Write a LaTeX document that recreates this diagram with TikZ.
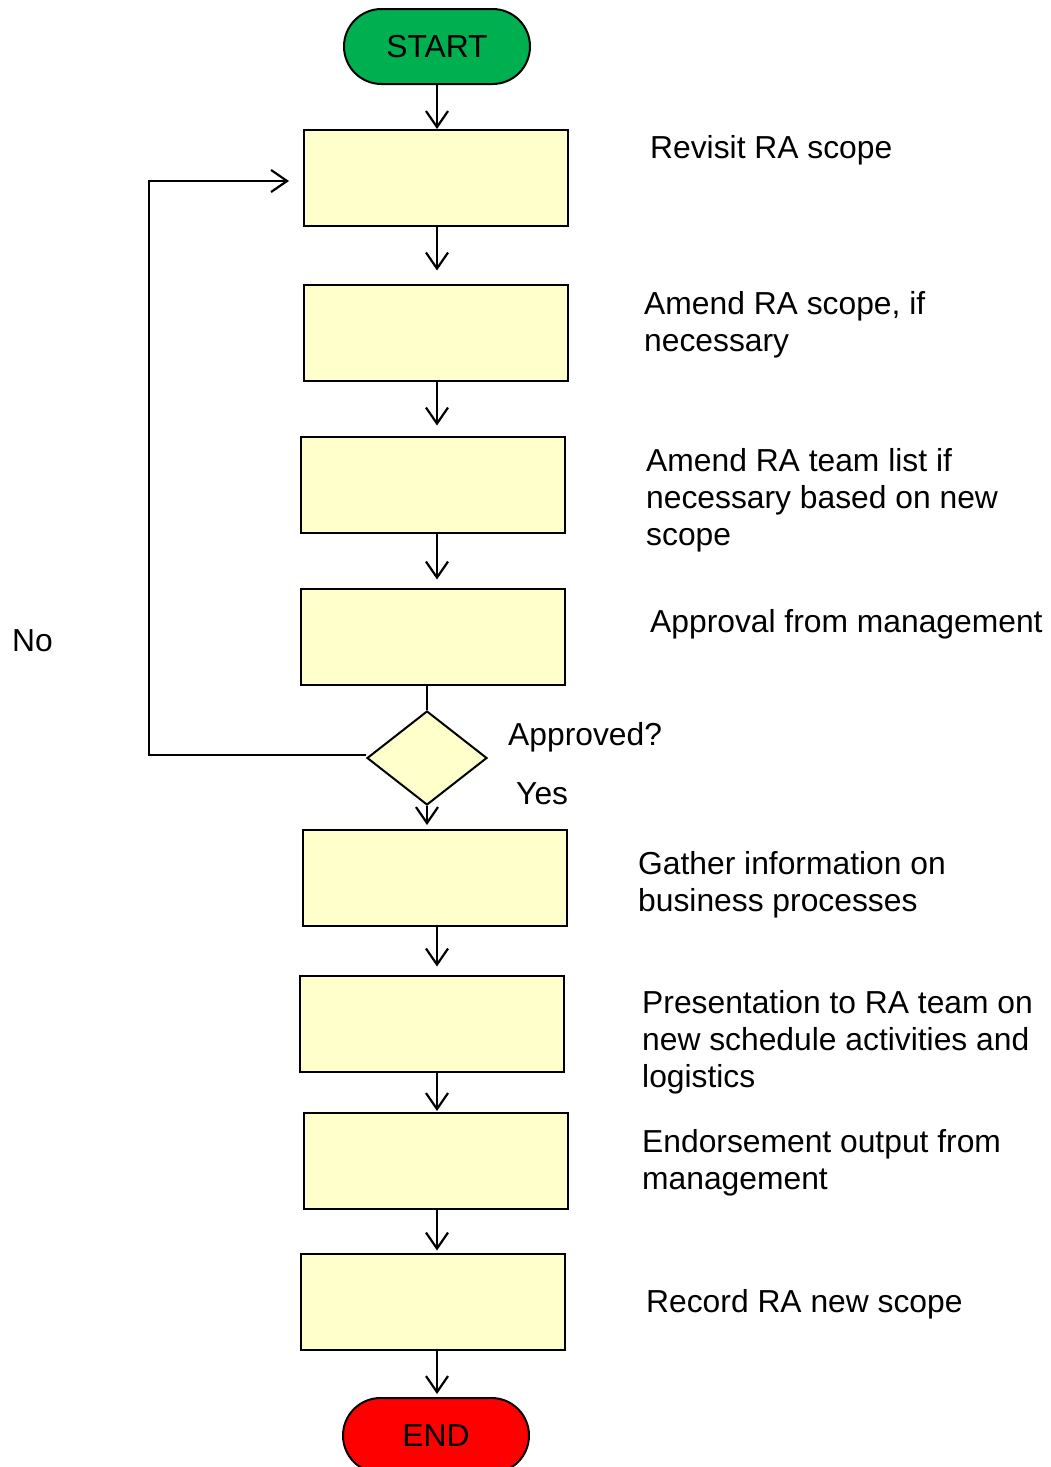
\documentclass[tikz,border=0pt]{standalone}
\usepackage{fontspec}
\setmainfont{Liberation Sans}
\usetikzlibrary{shapes.geometric,shapes.misc,arrows.meta}
\definecolor{boxyellow}{RGB}{255,255,204}
\definecolor{startgreen}{RGB}{0,176,80}
\definecolor{endred}{RGB}{255,0,0}
\begin{document}
\begin{tikzpicture}[x=1pt,y=-1pt,
  every node/.style={font=\fontsize{31.8}{37}\selectfont},
  stepbox/.style={draw, line width=2pt, fill=boxyellow, minimum width=264pt, minimum height=96pt, inner sep=0pt},
  terminal/.style={draw, line width=2pt, rounded rectangle, minimum width=186pt, minimum height=75pt, inner sep=0pt},
  decision/.style={draw, line width=2pt, diamond, fill=boxyellow, minimum width=120pt, minimum height=94pt, inner sep=0pt},
  note/.style={anchor=west, align=left, inner sep=0pt},
  flow/.style={draw, line width=2.2pt, -{Straight Barb[length=16pt,width=22pt]}}
]
\useasboundingbox (0,0) rectangle (1050,1467);

% terminals
\node[terminal, fill=startgreen] (start) at (437,46.5) {START};
\node[terminal, fill=endred] (end) at (436,1435.5) {END};

% process steps
\node[stepbox] (b1) at (436,178) {};
\node[stepbox] (b2) at (436,332.5) {};
\node[stepbox] (b3) at (433,484.5) {};
\node[stepbox] (b4) at (433,636.5) {};
\node[decision] (d) at (427,758) {};
\node[stepbox] (b5) at (435,878) {};
\node[stepbox] (b6) at (432,1023.5) {};
\node[stepbox] (b7) at (436,1161) {};
\node[stepbox] (b8) at (433,1301.5) {};

% step descriptions
\node[note] (t1) at (650,150) {Revisit RA scope};
\node[note] (t2) at (644,325) {Amend RA scope, if\\necessary};
\node[note] (t3) at (646,500) {Amend RA team list if\\necessary based on new\\scope};
\node[note] (t4) at (650,624) {Approval from management};
\node[note] (tq) at (508,737) {Approved?};
\node[note] (ty) at (516,794) {Yes};
\node[note] (tn) at (12,641) {No};
\node[note] (t5) at (638,885) {Gather information on\\business processes};
\node[note] (t6) at (642,1042) {Presentation to RA team on\\new schedule activities and\\logistics};
\node[note] (t7) at (642,1163) {Endorsement output from\\management};
\node[note] (t8) at (646,1304) {Record RA new scope};

% connectors
\draw[flow] (start.south) -- (b1.north -| start.south);
\draw[flow, shorten >=13pt] (b1.south -| start.south) -- (b2.north -| start.south);
\draw[flow, shorten >=10pt] (b2.south -| start.south) -- (b3.north -| start.south);
\draw[flow, shorten >=8pt] (b3.south -| start.south) -- (b4.north -| start.south);
\draw[line width=2pt] (b4.south -| d.north) -- (d.north);
\draw[flow, shorten >=4pt] (d.south) -- (b5.north -| d.south);
\draw[flow, shorten >=8pt] (b5.south -| start.south) -- (b6.north -| start.south);
\draw[flow, shorten >=1pt] (b6.south -| start.south) -- (b7.north -| start.south);
\draw[flow, shorten >=2pt] (b7.south -| start.south) -- (b8.north -| start.south);
\draw[flow, shorten >=3pt] (b8.south -| start.south) -- (end.north -| start.south);

% "No" branch back to the first step
\coordinate (loop) at (149,755);
\draw[flow, shorten >=14pt] (d.west |- loop) -- (loop) |- (b1.west |- 0,181);
\end{tikzpicture}
\end{document}
